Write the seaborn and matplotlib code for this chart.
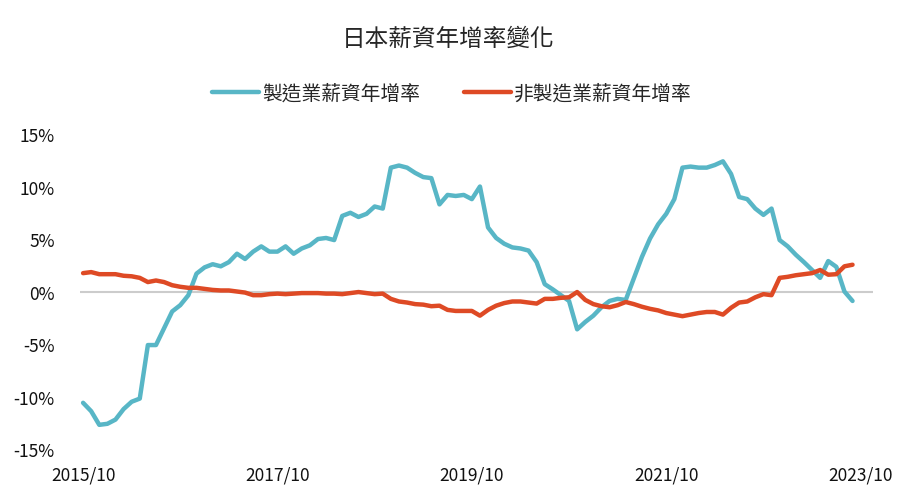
import matplotlib
matplotlib.use('Agg')
import matplotlib.pyplot as plt
import seaborn as sns
import pandas as pd

# 2015/10 ~ 2023/09 monthly
months = pd.period_range('2015-10', '2023-09', freq='M').strftime('%Y/%m').tolist()

mfg = [-10.6, -11.4, -12.7, -12.6, -12.2, -11.2, -10.5, -10.2, -5.1, -5.1,
       -3.5, -1.9, -1.3, -0.35, 1.7, 2.3, 2.6, 2.4, 2.8, 3.6,
       3.1, 3.8, 4.3, 3.8, 3.8, 4.3, 3.6, 4.1, 4.4, 5.0,
       5.1, 4.9, 7.2, 7.5, 7.1, 7.4, 8.1, 7.9, 11.8, 12.0,
       11.8, 11.3, 10.9, 10.8, 8.3, 9.2, 9.1, 9.2, 8.8, 10.0,
       6.1, 5.1, 4.55, 4.2, 4.1, 3.9, 2.8, 0.7, 0.2, -0.35,
       -0.9, -3.6, -2.9, -2.3, -1.5, -0.9, -0.7, -0.8, 1.25, 3.3,
       5.05, 6.4, 7.4, 8.8, 11.8, 11.9, 11.8, 11.8, 12.05, 12.4,
       11.2, 9.0, 8.8, 7.9, 7.3, 7.9, 4.9, 4.3, 3.5, 2.8,
       2.05, 1.3, 2.9, 2.35, 0.0, -0.9]

non_mfg = [1.75, 1.85, 1.65, 1.65, 1.65, 1.5, 1.45, 1.3, 0.9, 1.05,
           0.9, 0.6, 0.45, 0.35, 0.35, 0.25, 0.15, 0.1, 0.1, 0.0,
           -0.1, -0.35, -0.35, -0.25, -0.2, -0.25, -0.2, -0.15, -0.15, -0.15,
           -0.2, -0.2, -0.25, -0.15, -0.05, -0.15, -0.25, -0.2, -0.7, -0.95,
           -1.05, -1.2, -1.25, -1.4, -1.35, -1.75, -1.85, -1.85, -1.85, -2.3,
           -1.75, -1.35, -1.1, -0.95, -0.95, -1.05, -1.15, -0.7, -0.7, -0.6,
           -0.55, -0.05, -0.8, -1.2, -1.4, -1.5, -1.3, -1.0, -1.2, -1.45,
           -1.65, -1.8, -2.05, -2.2, -2.35, -2.2, -2.05, -1.95, -1.95, -2.2,
           -1.55, -1.05, -0.95, -0.55, -0.25, -0.35, 1.3, 1.4, 1.55, 1.65,
           1.75, 2.05, 1.6, 1.65, 2.4, 2.55]

series_names = ['製造業薪資年增率', '非製造業薪資年增率']
colors = ['#58B6C6', '#DE4A25']
tick_labels = ['2015/10', '2017/10', '2019/10', '2021/10', '2023/10']
y_ticks = [15, 10, 5, 0, -5, -10, -15]

idx = list(range(len(months)))
df = pd.concat([
    pd.DataFrame({'t': idx, 'rate': mfg, 'series': series_names[0]}),
    pd.DataFrame({'t': idx, 'rate': non_mfg, 'series': series_names[1]}),
])

sns.set_style('white')
plt.rcParams['font.family'] = ['Noto Sans CJK TC', 'DejaVu Sans']

fig = plt.figure(figsize=(8.97, 5.02), dpi=100)
ax = fig.add_axes([0.089, 0.1036, 0.884, 0.6274])

ax.axhline(0, color='#CCCCCC', lw=1.5, zorder=1)
sns.lineplot(data=df, x='t', y='rate', hue='series', palette=colors,
             linewidth=3.2, ax=ax, zorder=3)

ax.set_xlim(-0.4, 97.5)
ax.set_ylim(-15, 15)
ax.set_xticks([0, 24, 48, 72, 96])
ax.set_xticklabels(tick_labels)
ax.set_yticks(y_ticks)
ax.set_yticklabels([f'{v}%' for v in y_ticks])
ax.tick_params(axis='both', length=0, labelsize=12.5, colors='#111111')
ax.tick_params(axis='x', pad=12)
ax.tick_params(axis='y', pad=18)
ax.set_xlabel('')
ax.set_ylabel('')
sns.despine(ax=ax, left=True, bottom=True)

handles, labels = ax.get_legend_handles_labels()
leg = ax.legend(handles, labels, loc='center', bbox_to_anchor=(0.469, 1.13),
                ncol=2, frameon=False, fontsize=14.2, handlelength=2.4,
                handletextpad=0.15, columnspacing=2.2)
for t in leg.get_texts():
    t.set_fontweight('medium')

fig.suptitle('日本薪資年增率變化', x=0.5, y=0.921, va='center',
             fontsize=17, fontweight='medium')

fig.savefig('out.png', dpi=100)
